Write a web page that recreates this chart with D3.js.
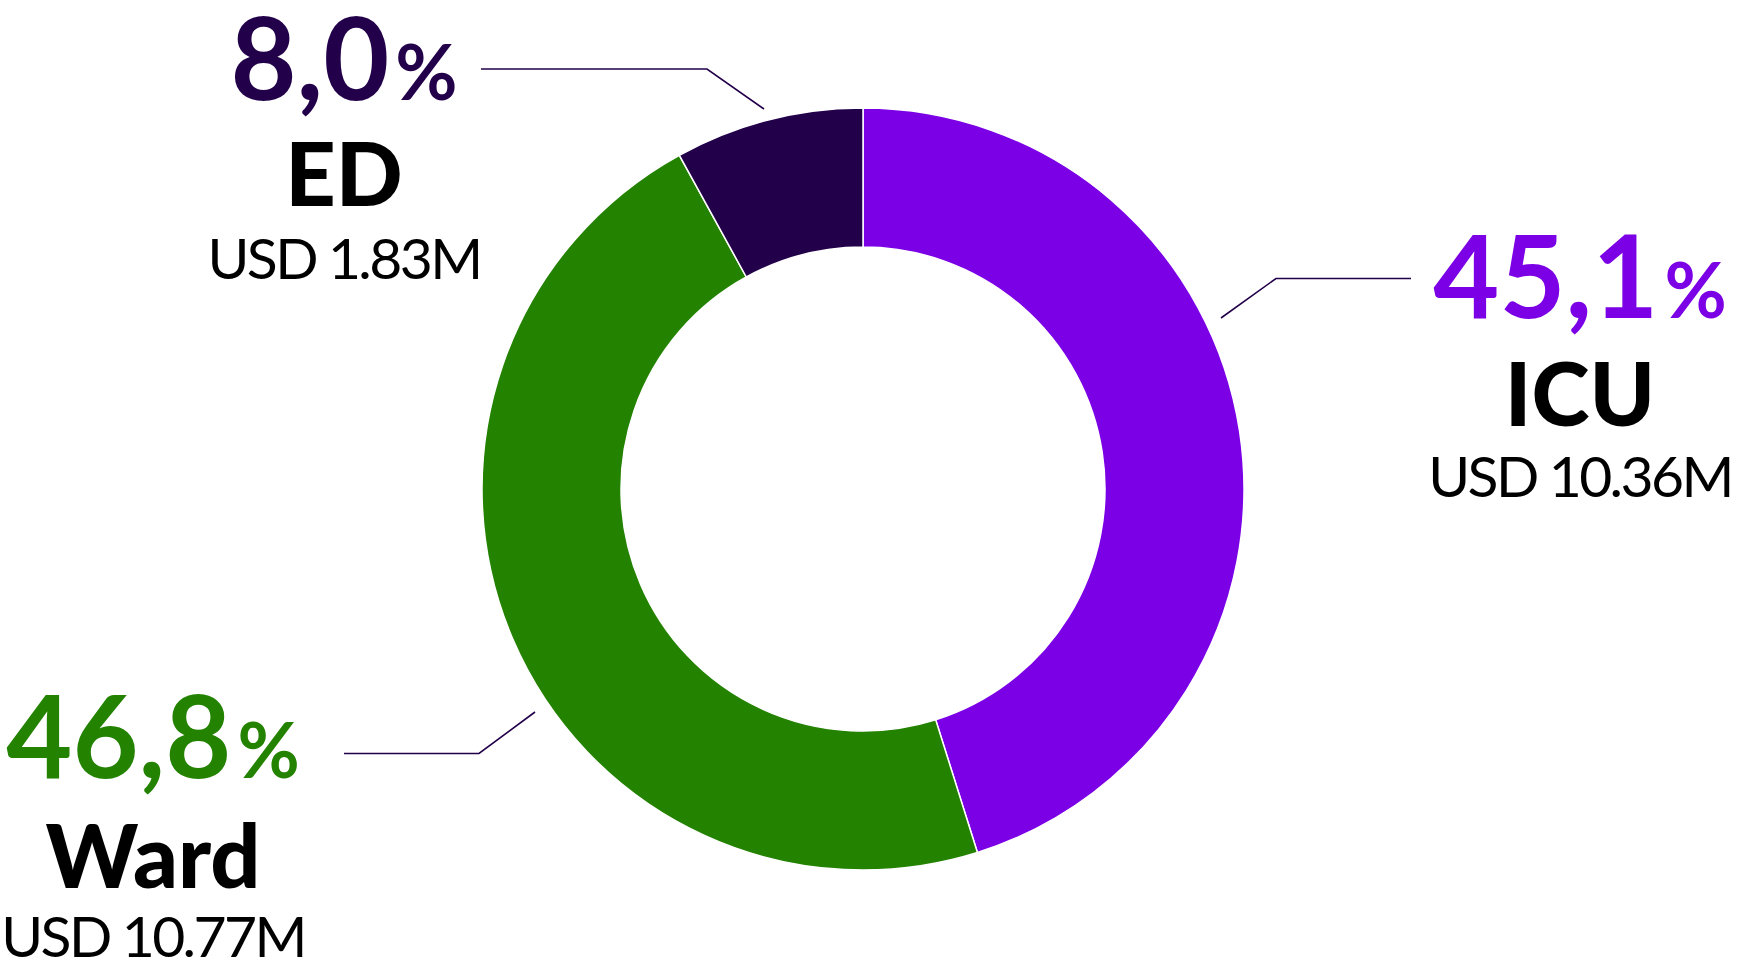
<!DOCTYPE html>
<html>
<head>
<meta charset="utf-8">
<script src="https://cdn.jsdelivr.net/npm/d3@7"></script>
<style>
  html, body { margin: 0; padding: 0; background: #ffffff; }
  svg { display: block; }
  text { font-family: Lato, "Open Sans", sans-serif; }
</style>
</head>
<body>
<svg id="chart" width="1740" height="973"></svg>
<script>
// ---- data ----
const categories = ["ICU", "Ward", "ED"];
const shares = [45.1, 46.8, 8.0];          // percent of total
const shareLabels = ["45,1", "46,8", "8,0"];
const costLabels = ["USD 10.36M", "USD 10.77M", "USD 1.83M"];
const colors = ["#7B00E6", "#238200", "#22004A"];

// ---- layout ----
const W = 1740, H = 973;
const cx = 863, cy = 489;
const outerR = 381, innerR = 242;
const leaderColor = "#22004A";

// label layout: anchor centre x, baselines for % line, name, cost
const labelLayout = {
  ICU:  { x: 1580, y1: 318, y2: 426, y3: 497, lead: [[1221, 318], [1276, 278.5], [1411, 278.5]] },
  Ward: { x: 153,  y1: 778, y2: 888, y3: 957, lead: [[535, 712], [479, 753.5], [344, 753.5]] },
  ED:   { x: 344,  y1: 100, y2: 206, y3: 279, lead: [[764, 109], [707, 69], [481, 69]] }
};

const svg = d3.select("#chart");
const g = svg.append("g").attr("transform", `translate(${cx},${cy})`);

const pie = d3.pie().sort(null).value(d => d.v).startAngle(0).endAngle(2 * Math.PI);
const arc = d3.arc().innerRadius(innerR).outerRadius(outerR);

const data = categories.map((c, i) => ({ c, v: shares[i] }));
const color = d3.scaleOrdinal().domain(categories).range(colors);

g.selectAll("path.slice")
  .data(pie(data))
  .join("path")
  .attr("class", "slice")
  .attr("d", arc)
  .attr("fill", d => color(d.data.c))
  .attr("stroke", "#ffffff")
  .attr("stroke-width", 1.5);

// leader lines
const line = d3.line();
svg.selectAll("path.leader")
  .data(categories)
  .join("path")
  .attr("class", "leader")
  .attr("d", c => line(labelLayout[c].lead))
  .attr("fill", "none")
  .attr("stroke", leaderColor)
  .attr("stroke-width", 1.6);

// labels
categories.forEach((c, i) => {
  const L = labelLayout[c];
  const pct = svg.append("text")
    .attr("x", L.x).attr("y", L.y1)
    .attr("text-anchor", "middle")
    .attr("fill", colors[i])
    .attr("font-size", 114)
    .attr("font-weight", 700)
    .attr("letter-spacing", 0);
  pct.append("tspan").text(shareLabels[i]);
  pct.append("tspan").attr("font-size", 76).attr("dx", 6).text("%");

  svg.append("text")
    .attr("x", L.x).attr("y", L.y2)
    .attr("text-anchor", "middle")
    .attr("fill", "#000")
    .attr("font-size", 88)
    .attr("font-weight", 900)
    .text(c);

  svg.append("text")
    .attr("x", L.x).attr("y", L.y3)
    .attr("text-anchor", "middle")
    .attr("fill", "#000")
    .attr("font-size", 57)
    .attr("font-weight", 400)
    .attr("letter-spacing", -2.6)
    .text(costLabels[i]);
});
</script>
</body>
</html>
